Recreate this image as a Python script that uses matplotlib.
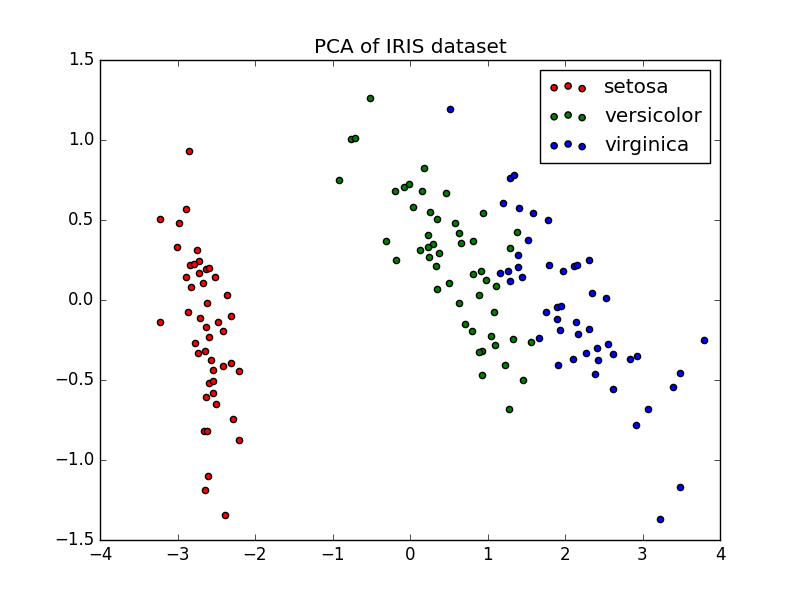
import matplotlib
matplotlib.use("Agg")
import matplotlib.pyplot as plt

plt.style.use("classic")

# PCA projections (PC1, PC2)
setosa_x = [-2.855, -2.890, -3.230, -2.985, -3.003, -2.752, -2.719, -2.843, -2.787, -2.632,
            -2.590, -2.723, -2.894, -2.512, -2.822, -2.675, -2.357, -2.619, -2.868, -2.706,
            -2.306, -3.222, -2.474, -2.632, -2.409, -2.594, -2.774, -2.732, -2.645, -2.564,
            -2.546, -2.413, -2.314, -2.210, -2.594, -2.538, -2.546, -2.628, -2.507, -2.284,
            -2.654, -2.623, -2.203, -2.603, -2.645, -2.387]
setosa_y = [0.933, 0.571, 0.504, 0.483, 0.333, 0.314, 0.246, 0.221, 0.227, 0.194,
            0.200, 0.171, 0.142, 0.142, 0.083, 0.108, 0.033, -0.021, -0.075, -0.113,
            -0.102, -0.139, -0.136, -0.169, -0.194, -0.233, -0.271, -0.333, -0.321, -0.373,
            -0.439, -0.414, -0.396, -0.442, -0.519, -0.508, -0.583, -0.604, -0.650, -0.746,
            -0.817, -0.817, -0.877, -1.098, -1.186, -1.342]

versicolor_x = [-0.512, -0.761, -0.706, 0.176, -0.912, -0.194, -0.073, -0.009, 0.159, 0.461,
                0.039, 0.258, 0.352, 0.942, 0.585, 0.632, 0.228, -0.310, 0.293, 0.232,
                0.133, 0.654, 0.813, 0.374, 0.245, -0.177, 0.331, 0.813, 0.920, 0.981,
                1.110, 0.507, 0.352, 0.886, 0.636, 1.084, 1.377, 1.295, 0.710, 0.804,
                1.041, 1.097, 1.333, 1.557, 0.933, 0.894, 1.221, 0.925, 1.462, 1.277]
versicolor_y = [1.263, 1.004, 1.011, 0.827, 0.752, 0.679, 0.704, 0.723, 0.681, 0.671,
                0.583, 0.552, 0.504, 0.542, 0.483, 0.419, 0.406, 0.367, 0.348, 0.333,
                0.313, 0.354, 0.371, 0.294, 0.269, 0.252, 0.213, 0.165, 0.183, 0.125,
                0.086, 0.106, 0.069, 0.033, -0.017, -0.075, 0.423, 0.327, -0.148, -0.194,
                -0.227, -0.281, -0.244, -0.265, -0.317, -0.327, -0.406, -0.467, -0.500, -0.683]

virginica_x = [0.516, 1.290, 1.342, 1.196, 1.410, 1.583, 1.777, 1.527, 1.390, 1.260,
               1.166, 1.390, 1.441, 1.286, 1.797, 1.970, 2.120, 2.159, 2.314, 1.759,
               1.892, 1.892, 1.660, 1.914, 2.344, 2.529, 1.948, 2.142, 1.939, 2.164,
               2.310, 2.559, 2.417, 2.275, 2.615, 2.426, 2.103, 2.839, 2.929, 2.387,
               2.615, 3.484, 3.394, 3.794, 3.075, 2.916, 3.484, 3.226]
virginica_y = [1.194, 0.763, 0.779, 0.606, 0.577, 0.542, 0.502, 0.377, 0.283, 0.183,
               0.167, 0.206, 0.144, 0.119, 0.217, 0.183, 0.210, 0.219, 0.248, -0.077,
               -0.046, -0.117, -0.240, -0.406, 0.044, 0.015, -0.038, -0.138, -0.186, -0.213,
               -0.181, -0.273, -0.302, -0.331, -0.340, -0.375, -0.371, -0.371, -0.352, -0.460,
               -0.556, -0.454, -0.546, -0.252, -0.683, -0.779, -1.169, -1.369]

target_names = ["setosa", "versicolor", "virginica"]
colors = ["r", "g", "b"]

fig = plt.figure(figsize=(8, 6), dpi=100)
series = [(setosa_x, setosa_y), (versicolor_x, versicolor_y), (virginica_x, virginica_y)]
for (xs, ys), c, name in zip(series, colors, target_names):
    plt.scatter(xs, ys, c=c, label=name)

plt.legend()
plt.title("PCA of IRIS dataset")
plt.xlim(-4, 4)
plt.ylim(-1.5, 1.5)
plt.savefig("out.png", dpi=100)
